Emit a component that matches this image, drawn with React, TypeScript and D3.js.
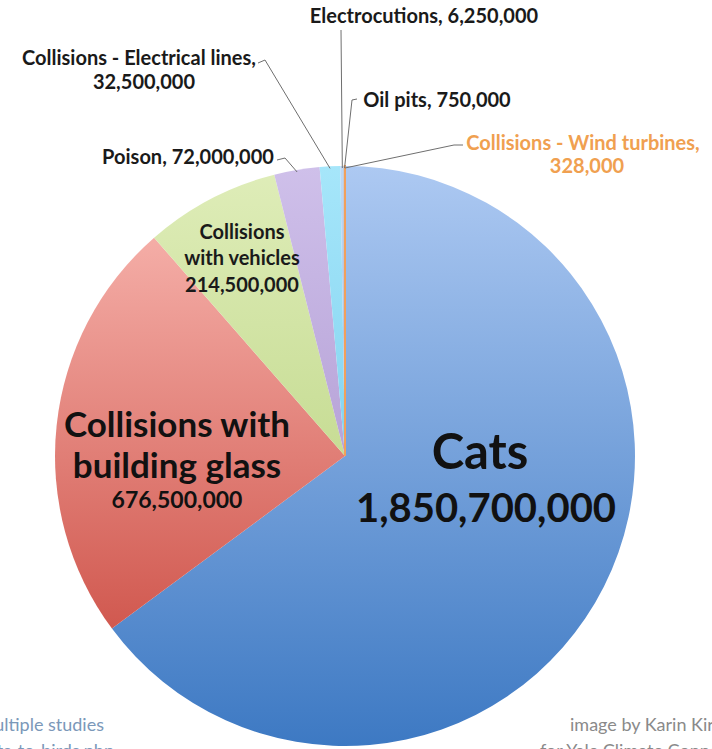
import { useMemo } from 'react';
import * as d3 from 'd3';

// Bird deaths per year by cause (clockwise from 12 o'clock)
const causes = [
  'Cats',
  'Collisions with building glass',
  'Collisions with vehicles',
  'Poison',
  'Collisions - Electrical lines',
  'Electrocutions',
  'Oil pits',
  'Collisions - Wind turbines',
];
const deaths = [1850700000, 676500000, 214500000, 72000000, 32500000, 6250000, 750000, 328000];
const valueLabels = [
  '1,850,700,000',
  '676,500,000',
  '214,500,000',
  '72,000,000',
  '32,500,000',
  '6,250,000',
  '750,000',
  '328,000',
];
// light (top) -> dark (bottom) fill for each slice
const topColors = ['#adc9f2', '#fbbdb7', '#dfedb9', '#cfc0ea', '#a6e6fa', '#bcd7f5', '#bcd7f5', '#f7b070'];
const bottomColors = ['#3d79c3', '#c63f35', '#afcc70', '#9f86c5', '#62c2e6', '#86b0e4', '#86b0e4', '#ee9040'];

const W = 712;
const H = 749;
const cx = 345;
const cy = 456;
const R = 290;
const FONT = 'Lato, "Open Sans", sans-serif';

export default function App() {
  const arcs = useMemo(
    () =>
      d3
        .pie<number>()
        .sort(null)
        .value((d) => d)(deaths),
    []
  );
  const arc = d3.arc<d3.PieArcDatum<number>>().innerRadius(0).outerRadius(R);
  const edge = d3.arc<d3.PieArcDatum<number>>().innerRadius(R - 2).outerRadius(R - 2);
  const pt = (i: number) => {
    const [x, y] = edge.centroid(arcs[i]);
    return [cx + x, cy + y];
  };

  const lead = (pts: number[][]) => d3.line()(pts as [number, number][]) ?? '';
  const p3 = pt(3);
  const p4 = pt(4);
  const p5 = pt(5);
  const p6 = pt(6);
  const p7 = pt(7);

  return (
    <svg
      width={W}
      height={H}
      style={{ position: 'absolute', left: 0, top: 0, background: '#fff' }}
      fontFamily={FONT}
    >
      <defs>
        {causes.map((c, i) => (
          <linearGradient key={c} id={`g${i}`} gradientUnits="userSpaceOnUse" x1={0} y1={-R} x2={0} y2={R}>
            <stop offset="0" stopColor={topColors[i]} />
            <stop offset="1" stopColor={bottomColors[i]} />
          </linearGradient>
        ))}
      </defs>

      <g transform={`translate(${cx},${cy})`}>
        {arcs.map((a, i) => (
          <path
            key={causes[i]}
            d={arc(a) ?? ''}
            fill={`url(#g${i})`}
            stroke={i === 7 ? '#f2a05a' : 'none'}
            strokeWidth={i === 7 ? 2 : 0}
          />
        ))}
      </g>

      {/* leader lines */}
      <g fill="none" stroke="#6f6f6f" strokeWidth={1}>
        <path d={lead([[341, 30], p5])} />
        <path d={lead([[258, 63], [265, 60], p4])} />
        <path d={lead([[357, 99], [352, 100], p6])} />
        <path d={lead([[277, 160], [285, 158], p3])} />
        <path d={lead([[463, 145], [454, 145], p7])} />
      </g>

      <g fontWeight="bold" fontSize={20} fill="#1a1a1a">
        <text x={424} y={23} textAnchor="middle">
          {causes[5]}, {valueLabels[5]}
        </text>
        <text x={139} y={65} textAnchor="middle">
          {causes[4]},
        </text>
        <text x={144} y={89} textAnchor="middle">
          {valueLabels[4]}
        </text>
        <text x={437} y={107} textAnchor="middle">
          {causes[6]}, {valueLabels[6]}
        </text>
        <text x={188} y={164} textAnchor="middle">
          {causes[3]}, {valueLabels[3]}
        </text>
        <text x={583} y={150} textAnchor="middle" fill="#f0a050">
          {causes[7]},
        </text>
        <text x={587} y={173} textAnchor="middle" fill="#f0a050">
          {valueLabels[7]}
        </text>
        <text x={242} y={239} textAnchor="middle">
          Collisions
        </text>
        <text x={242} y={265} textAnchor="middle">
          with vehicles
        </text>
        <text x={242} y={292} textAnchor="middle">
          {valueLabels[2]}
        </text>
      </g>

      <g fontWeight="bold" fill="#111" textAnchor="middle">
        <text x={177} y={437} fontSize={35}>
          Collisions with
        </text>
        <text x={177} y={478} fontSize={35}>
          building glass
        </text>
        <text x={177} y={508} fontSize={23}>
          {valueLabels[1]}
        </text>
        <text x={480} y={469} fontSize={49}>
          {causes[0]}
        </text>
        <text x={486} y={522} fontSize={40}>
          {valueLabels[0]}
        </text>
      </g>

      <g fontSize={18}>
        <text x={104} y={731} textAnchor="end" fill="#7b98b9">
          Data from multiple studies
        </text>
        <text x={114} y={757} textAnchor="end" fill="#7b98b9">
          www.fws.gov/birds/bird-enthusiasts/threats-to-birds.php
        </text>
        <text x={570} y={731} fill="#8a8a8a">
          image by Karin Kirk
        </text>
        <text x={540} y={757} fill="#8a8a8a">
          for Yale Climate Connections
        </text>
      </g>
    </svg>
  );
}
